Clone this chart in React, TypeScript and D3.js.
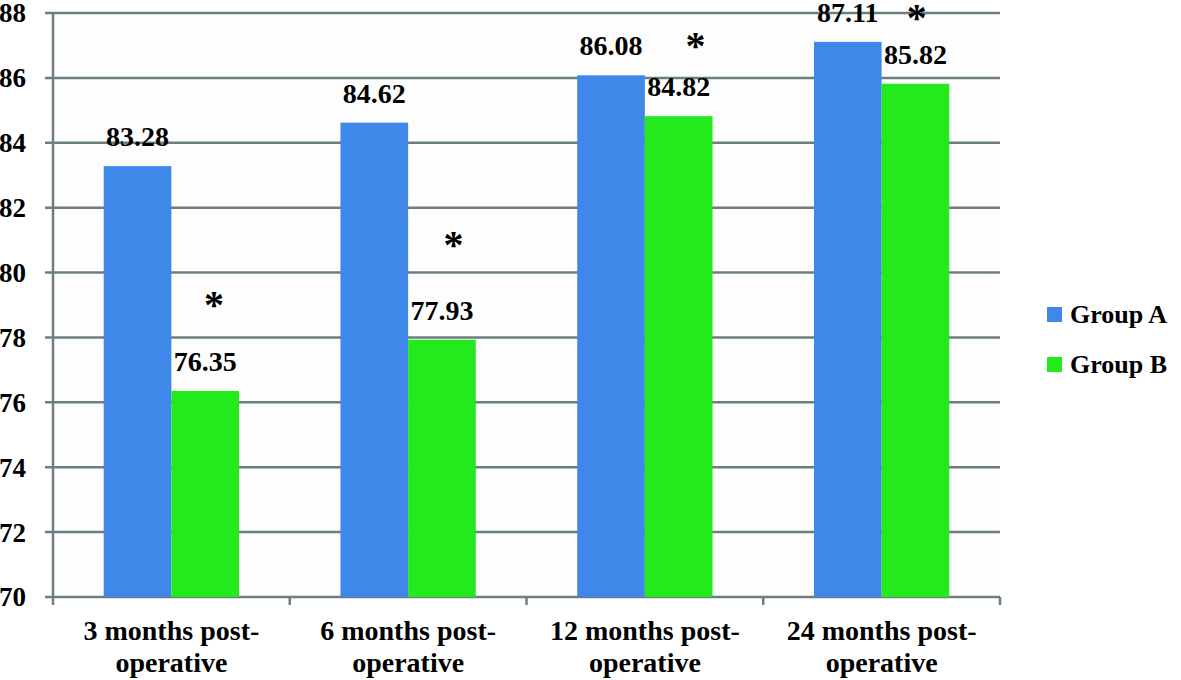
import React from "react";
import * as d3 from "d3";

const categories = ["3 months post-|operative", "6 months post-|operative", "12 months post-|operative", "24 months post-|operative"];
const groups = ["Group A", "Group B"];
const groupA = [83.28, 84.62, 86.08, 87.11];
const groupB = [76.35, 77.93, 84.82, 85.82];
const asteriskLevels = [79.25, 81.1, 87.23, 88.1];
const asteriskShift = [0.13, 0.17, 0.25, 0.02];
const yTicks = [70, 72, 74, 76, 78, 80, 82, 84, 86, 88];
const colors = ["#3f87e9", "#22ea1c"];

const W = 1181;
const H = 680;
const M = { left: 53, right: 181, top: 13, bottom: 83 };
const FONT = "'Liberation Serif', 'Times New Roman', serif";
const GRID = "#6b7f80";

export default function App() {
  const x = d3.scaleBand<string>().domain(categories).range([M.left, W - M.right]).paddingInner(0).paddingOuter(0);
  const y = d3.scaleLinear().domain([70, 88]).range([H - M.bottom, M.top]);
  const inner = d3.scaleBand<string>().domain(groups).range([0, x.bandwidth()]).paddingInner(0).paddingOuter(0.75);
  const bw = inner.bandwidth();
  const series = [groupA, groupB];
  const boundaries = d3.range(categories.length + 1).map((i) => M.left + i * x.step());

  return (
    <svg width={W} height={H} style={{ position: "absolute", left: 0, top: 0, background: "#fff" }} fontFamily={FONT}>
      <rect x={M.left} y={M.top} width={W - M.right - M.left} height={H - M.bottom - M.top} fill="#fdfdfd" />
      {yTicks.map((t) => (
        <g key={t}>
          <line x1={M.left - 8} x2={W - M.right} y1={y(t)} y2={y(t)} stroke={GRID} strokeWidth={2.5} />
          <text x={26} y={y(t)} dy="0.35em" textAnchor="end" fontSize={27} fontWeight="bold" fill="#000">
            {t}
          </text>
        </g>
      ))}
      {categories.map((c, ci) =>
        series.map((s, gi) => {
          const bx = (x(c) as number) + (inner(groups[gi]) as number);
          return (
            <g key={c + gi}>
              <rect x={bx} y={y(s[ci])} width={bw} height={y(70) - y(s[ci])} fill={colors[gi]} />
              <text x={bx + bw / 2} y={y(s[ci]) - 20} textAnchor="middle" fontSize={28} fontWeight="bold" fill="#000">
                {s[ci].toFixed(2)}
              </text>
            </g>
          );
        })
      )}
      {categories.map((c, ci) => {
        const bx = (x(c) as number) + (inner(groups[1]) as number) + bw / 2 + asteriskShift[ci] * bw;
        return (
          <text key={"ast" + ci} x={bx} y={y(asteriskLevels[ci]) + 21} textAnchor="middle" fontSize={40} fontWeight="bold" fill="#000">
            *
          </text>
        );
      })}
      <line x1={M.left} x2={M.left} y1={M.top} y2={H - M.bottom} stroke={GRID} strokeWidth={2.5} />
      {boundaries.map((bx, i) => (
        <line key={"b" + i} x1={bx} x2={bx} y1={H - M.bottom} y2={H - M.bottom + 8} stroke={GRID} strokeWidth={2.5} />
      ))}
      {categories.map((c) => {
        const lines = c.split("|");
        const cx = (x(c) as number) + x.bandwidth() / 2;
        return (
          <text key={"l" + c} textAnchor="middle" fontSize={28} fontWeight="bold" fill="#000">
            {lines.map((l, li) => (
              <tspan key={li} x={cx} y={640 + li * 32}>
                {l}
              </tspan>
            ))}
          </text>
        );
      })}
      {groups.map((g, gi) => (
        <g key={g}>
          <rect x={1047} y={307 + gi * 50} width={15} height={15} fill={colors[gi]} />
          <text x={1070} y={314 + gi * 50} dy="0.35em" fontSize={26} fontWeight="bold" fill="#000">
            {g}
          </text>
        </g>
      ))}
    </svg>
  );
}
